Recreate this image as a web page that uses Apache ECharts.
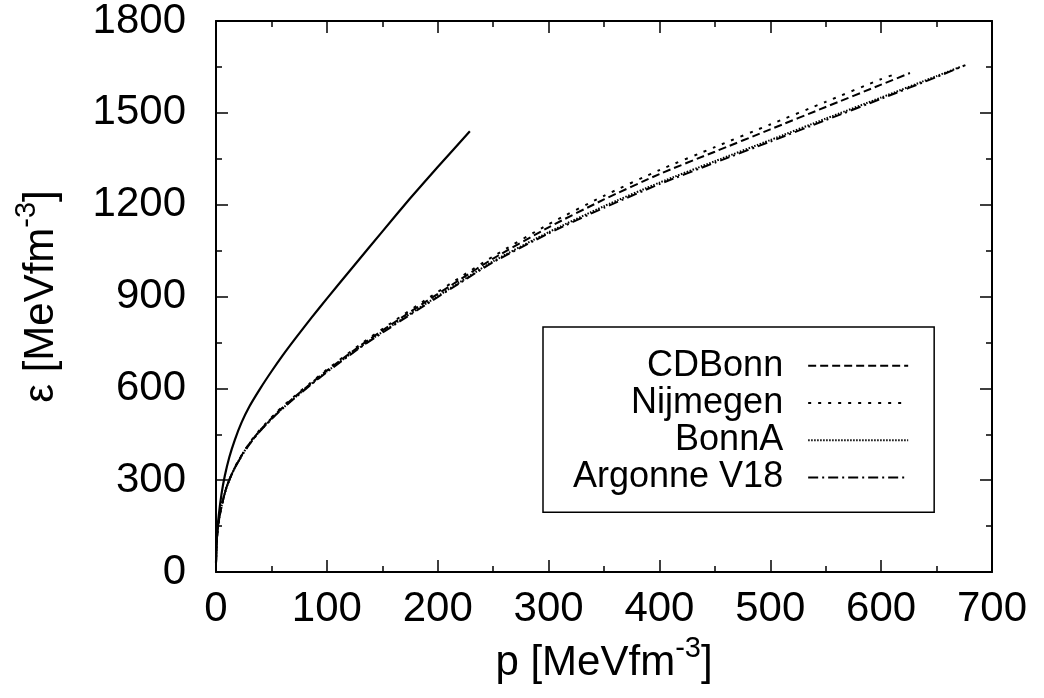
<!DOCTYPE html>
<html>
<head>
<meta charset="utf-8">
<script src="https://cdn.jsdelivr.net/npm/echarts@6/dist/echarts.min.js"></script>
<style>html,body{margin:0;padding:0;background:#fff}#c{width:1044px;height:698px}</style>
</head>
<body>
<div id="c"></div>
<script>
// ---- data ----
const xTicks = [0, 100, 200, 300, 400, 500, 600, 700];
const yTicks = [0, 300, 600, 900, 1200, 1500, 1800];

const solidP = [0, 1, 2.5, 5, 8, 12, 17, 23, 30, 40, 50, 60, 72, 86, 100, 125, 150, 175, 200, 229];
const solidE = [30, 125, 185, 255, 315, 375, 432, 488, 540, 600, 655, 707, 765, 830, 893, 1003, 1112, 1220, 1323, 1440];

const lowP = [0, 0.5, 1, 2, 3, 5, 7, 9.6, 14, 18.6, 25, 32, 40, 55, 70, 85, 100, 130, 160, 190, 220];

const cdbonnP = lowP.concat([250, 300, 350, 400, 450, 500, 550, 600, 626]);
const cdbonnE = [30, 90, 118, 152, 177, 215, 245, 278, 318, 352, 392, 428, 464, 520, 569, 614, 658, 739, 813, 885, 955,
                 1024, 1126, 1217, 1300, 1373, 1446, 1519, 1592, 1630];

const nijmegenP = lowP.concat([250, 300, 350, 400, 450, 500, 550, 600, 614]);
const nijmegenE = [30, 90, 118, 152, 177, 215, 245, 278, 318, 353, 393, 430, 466, 523, 572, 617, 661, 743, 818, 891, 962,
                   1031, 1136, 1229, 1313, 1388, 1462, 1536, 1610, 1628];

const bonnAP = lowP.concat([250, 300, 350, 400, 450, 500, 550, 600, 650, 672]);
const bonnAE = [30, 90, 118, 152, 177, 215, 245, 278, 318, 351, 391, 427, 462, 518, 566, 612, 655, 735, 808, 878, 947,
                1015, 1110, 1195, 1272, 1342, 1411, 1481, 1550, 1620, 1651];

const argonneP = lowP.concat([250, 300, 350, 400, 450, 500, 550, 600, 650, 676]);
const argonneE = [30, 90, 118, 152, 177, 215, 245, 278, 318, 351, 390, 426, 461, 517, 565, 610, 653, 733, 805, 875, 944,
                  1012, 1106, 1190, 1267, 1337, 1406, 1476, 1546, 1617, 1656];

const legendNames = ['CDBonn', 'Nijmegen', 'BonnA', 'Argonne V18'];
const xName = ['p [MeVfm', '-3', ']'];
const yName = ['\u03b5 [MeVfm', '-3', ']'];

// ---- build chart ----
function zip(a, b) { return a.map((v, i) => [v, b[i]]); }
const FONT = 'Liberation Sans, Arial, sans-serif';

const nameRich = {
  m: { fontSize: 42, fontFamily: FONT, color: '#000', lineHeight: 42, verticalAlign: 'bottom' },
  s: { fontSize: 29, fontFamily: FONT, color: '#000', lineHeight: 29, verticalAlign: 'bottom', padding: [0, 0, 21, 0] }
};
function richName(parts) { return '{m|' + parts[0] + '}{s|' + parts[1] + '}{m|' + parts[2] + '}'; }

const axisCommon = {
  axisLine: { show: true, onZero: false, lineStyle: { color: '#000', width: 2 } },
  axisTick: { show: true, inside: true, length: 12, lineStyle: { color: '#000', width: 1.5 } },
  minorTick: { show: true, splitNumber: 2, length: 6, lineStyle: { color: '#000', width: 1.5 } },
  splitLine: { show: false },
  minorSplitLine: { show: false }
};

const xMin = xTicks[0], xMax = xTicks[xTicks.length - 1], xInt = xTicks[1] - xTicks[0];
const yMin = yTicks[0], yMax = yTicks[yTicks.length - 1], yInt = yTicks[1] - yTicks[0];
const plain = v => String(v);

const lineBase = { type: 'line', symbol: 'none', showSymbol: false, smooth: 0.2, animation: false };
const styles = [
  { width: 2, type: [8, 4] },
  { width: 2, type: [3, 7] },
  { width: 2, type: [1.5, 1.5] },
  { width: 2, type: [10, 4, 2, 4] }
];
const allData = [zip(cdbonnP, cdbonnE), zip(nijmegenP, nijmegenE), zip(bonnAP, bonnAE), zip(argonneP, argonneE)];

const series = [
  Object.assign({}, lineBase, { name: 'solid', data: zip(solidP, solidE), lineStyle: { color: '#000', width: 2.2, type: 'solid' } })
];
legendNames.forEach((n, i) => {
  series.push(Object.assign({}, lineBase, { name: n, data: allData[i], lineStyle: Object.assign({ color: '#000' }, styles[i]), itemStyle: { color: '#000' } }));
});

const chart = echarts.init(document.getElementById('c'), null, { renderer: 'canvas' });
chart.setOption({
  animation: false,
  backgroundColor: '#fff',
  textStyle: { fontFamily: FONT },
  grid: { left: 216, right: 52, top: 20, bottom: 126, show: false },
  legend: {
    data: legendNames,
    orient: 'vertical',
    align: 'right',
    left: 543, top: 327,
    itemWidth: 100, itemHeight: 14, itemGap: 0,
    padding: [20, 25, 16, 30],
    borderColor: '#000', borderWidth: 1.5,
    backgroundColor: '#fff',
    selectedMode: false,
    itemStyle: { color: 'rgba(0,0,0,0)', borderWidth: 0, opacity: 0 },
    textStyle: { fontSize: 36, fontFamily: FONT, color: '#000', lineHeight: 37.3, padding: [0, 20, 0, 0] }
  },
  xAxis: [
    Object.assign({}, axisCommon, {
      type: 'value', position: 'bottom', min: xMin, max: xMax, interval: xInt,
      axisLabel: { fontSize: 42, fontFamily: FONT, color: '#000', margin: 16, formatter: plain },
      name: richName(xName), nameLocation: 'middle', nameGap: 66,
      nameTextStyle: { rich: nameRich }
    }),
    Object.assign({}, axisCommon, {
      type: 'value', position: 'top', min: xMin, max: xMax, interval: xInt,
      axisLabel: { show: false }
    })
  ],
  yAxis: [
    Object.assign({}, axisCommon, {
      type: 'value', position: 'left', min: yMin, max: yMax, interval: yInt,
      axisLabel: { fontSize: 42, fontFamily: FONT, color: '#000', margin: 30, formatter: plain },
      name: richName(yName), nameLocation: 'middle', nameGap: 154,
      nameTextStyle: { rich: nameRich }
    }),
    Object.assign({}, axisCommon, {
      type: 'value', position: 'right', min: yMin, max: yMax, interval: yInt,
      axisLabel: { show: false }
    })
  ],
  series: series
});
</script>
</body>
</html>
